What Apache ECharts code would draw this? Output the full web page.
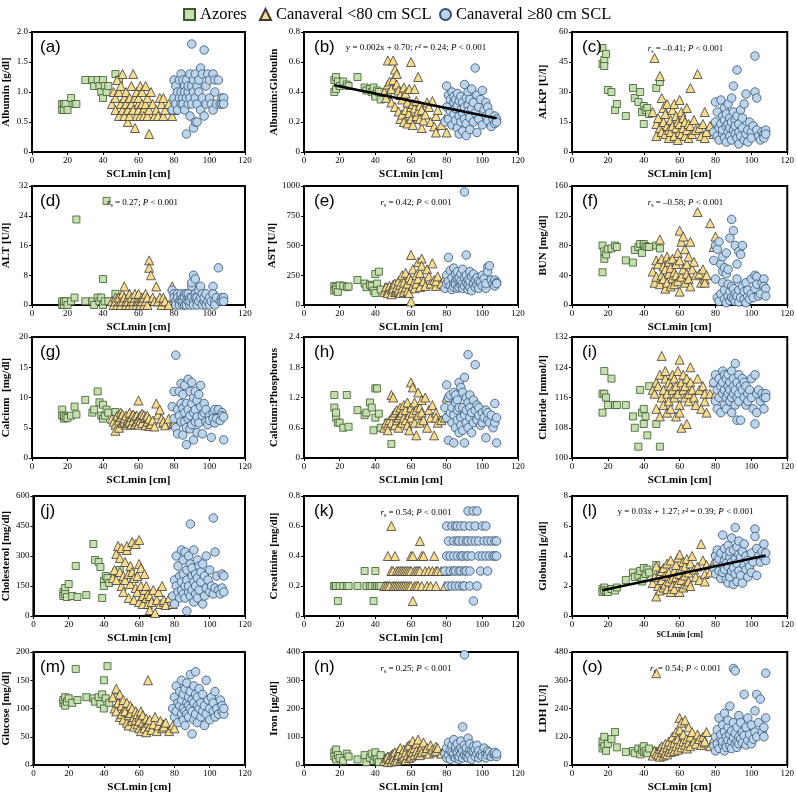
<!DOCTYPE html>
<html><head><meta charset="utf-8">
<script src="https://cdn.jsdelivr.net/npm/echarts@6/dist/echarts.min.js"></script>
<style>html,body{margin:0;padding:0;background:#fff}#c{width:797px;height:794px}</style>
</head><body><div id="c"></div>
<script>
// ---- shared SCLmin values (cm) per group ----
const azX = [17,17,18,18,19,20,22,24,25,30,34,35,37,38,39,40,40,41,42,43,47,49];
const smX = [45,46,47,47,48,49,49,50,50,51,51,52,52,53,53,54,54,55,55,56,56,57,57,58,58,59,59,60,60,60,61,61,62,62,63,63,64,64,65,65,66,66,67,68,69,70,71,72,73,74,74,75,77,79,80];
const lgX = [79,80,80,81,81,82,82,83,83,84,84,84,85,85,85,86,86,86,87,87,87,88,88,88,89,89,89,90,90,90,91,91,91,92,92,92,93,93,93,94,94,95,95,96,96,97,97,98,98,99,100,100,101,102,102,103,103,104,105,106,107,107,108,108];
const xTicks = [0,20,40,60,80,100,120];

// (a) Albumin
const a_az = [0.8,0.7,0.8,0.7,0.8,0.7,0.9,0.8,0.8,1.2,1.2,1.1,1.2,1.1,1.0,0.9,1.2,1.1,1.0,1.1,1.3,1.2];
const a_sm = [0.8,1.0,0.9,0.7,1.2,1.0,0.6,1.1,0.8,1.3,0.7,0.9,0.6,0.8,1.0,0.7,0.5,0.9,0.6,1.1,0.8,1.3,0.7,0.9,0.4,1.0,0.6,0.8,0.7,0.9,1.1,0.6,0.8,1.0,0.7,0.6,1.1,0.8,0.9,0.6,0.3,0.7,1.0,0.8,0.6,0.7,0.6,0.9,0.8,0.6,0.9,0.7,0.8,0.6,0.7];
const a_lg = [0.7,1.2,0.9,1.1,0.8,1.0,0.7,1.2,0.9,1.3,0.8,1.0,1.2,0.9,0.8,1.1,0.7,1.0,0.3,1.2,0.9,1.0,0.8,1.1,1.3,0.9,0.6,1.8,1.1,0.8,0.4,1.2,1.0,0.5,0.9,1.3,1.1,0.8,0.5,1.2,1.0,1.4,0.7,1.3,0.9,1.7,0.6,1.1,0.8,1.3,1.2,0.9,0.8,1.3,0.7,1.2,1.0,0.8,1.2,0.8,0.9,0.8,0.9,0.8];
// (b) Albumin:Globulin
const b_az = [0.48,0.40,0.50,0.42,0.47,0.44,0.47,0.45,0.44,0.50,0.43,0.41,0.42,0.40,0.43,0.38,0.37,0.41,0.40,0.35,0.38,0.42];
const b_sm = [0.40,0.36,0.61,0.45,0.47,0.42,0.33,0.61,0.48,0.55,0.30,0.52,0.45,0.27,0.41,0.38,0.22,0.35,0.25,0.43,0.20,0.39,0.28,0.33,0.19,0.42,0.26,0.60,0.30,0.22,0.32,0.18,0.29,0.42,0.24,0.34,0.50,0.27,0.22,0.31,0.16,0.28,0.21,0.25,0.33,0.30,0.20,0.34,0.17,0.24,0.13,0.28,0.18,0.22,0.13];
const b_lg = [0.20,0.44,0.30,0.38,0.22,0.35,0.27,0.40,0.18,0.33,0.25,0.37,0.29,0.21,0.35,0.31,0.16,0.39,0.24,0.34,0.12,0.37,0.28,0.20,0.33,0.26,0.14,0.45,0.30,0.22,0.36,0.19,0.11,0.31,0.27,0.40,0.23,0.35,0.15,0.29,0.42,0.33,0.20,0.56,0.26,0.38,0.13,0.30,0.22,0.35,0.41,0.18,0.28,0.24,0.33,0.21,0.30,0.26,0.17,0.22,0.24,0.19,0.22,0.20];
const b_fitX = [17,108];
const b_fitY = [0.445,0.225];
// (c) ALKP
const c_az = [52,44,46,43,49,31,30,21,24,18,32,27,25,30,20,14,23,21,22,19,32,35];
const c_sm = [20,47,14,8,17,38,12,27,10,22,15,9,19,13,24,11,7,16,10,21,13,24,8,18,12,15,6,26,10,14,20,9,17,12,8,15,11,22,14,7,32,13,9,16,11,39,12,8,14,20,7,10,13,9,11];
const c_lg = [10,25,15,8,20,12,6,26,14,9,18,11,22,7,16,13,5,19,10,24,14,8,17,12,27,6,15,20,11,33,9,16,13,7,41,18,10,14,4,21,8,12,17,6,24,9,29,11,5,15,10,7,13,48,30,27,11,8,6,10,9,7,11,9];
// (d) ALT
const d_az = [0,1,0,1,1,0,1,2,23,1,1,0,2,1,2,7,0,1,28,1,3,2];
const d_sm = [1,0,2,1,0,1,2,0,1,3,1,5,2,0,1,2,1,0,3,1,2,0,1,2,3,1,0,2,1,3,1,0,2,1,0,2,3,1,0,2,12,10,8,2,1,5,1,2,0,1,2,1,0,5,2];
const d_lg = [4,3,2,1,0,3,2,1,0,2,3,1,0,2,1,3,0,2,1,3,0,2,1,3,2,0,1,5,6,2,8,1,0,7,3,2,1,0,2,4,1,5,2,0,3,1,2,0,3,1,2,0,1,5,3,1,0,2,10,1,2,1,2,1];
// (e) AST
const e_az = [160,120,150,130,110,165,160,150,155,210,180,150,170,160,120,100,260,180,280,130,150,140];
const e_sm = [110,150,120,100,160,130,90,170,140,110,180,120,150,200,130,100,170,250,140,110,190,270,150,120,180,230,100,210,30,420,160,300,200,140,250,180,360,220,150,270,390,330,200,160,300,240,180,350,210,160,200,240,180,230,150];
const e_lg = [140,250,180,400,200,160,290,230,130,180,310,150,260,200,170,220,140,280,190,150,230,170,260,200,140,300,180,950,230,160,420,190,250,130,210,170,280,150,200,240,120,180,260,210,150,230,170,200,140,190,250,160,220,140,180,320,280,330,210,180,160,210,190,180];
// (f) BUN
const f_az = [44,80,62,72,68,75,76,80,78,60,57,74,78,82,70,80,82,79,78,78,80,76];
const f_sm = [45,30,60,38,55,28,88,40,62,52,35,48,22,65,30,58,42,25,50,36,62,44,28,55,40,70,32,100,18,60,85,38,92,48,30,75,55,42,65,35,85,25,48,58,40,125,42,30,48,35,30,40,110,78,92];
const f_lg = [60,80,35,75,10,85,5,55,15,45,30,65,8,50,20,42,3,70,12,28,48,6,18,90,115,10,25,100,8,22,80,5,15,55,12,35,72,4,20,68,10,80,25,8,18,3,30,12,20,8,15,35,10,40,22,38,28,12,15,30,35,25,22,12];
// (g) Calcium
const g_az = [8,7,6.5,7,6.8,6.6,7,8.5,7.2,9.6,7.5,8,11,9.2,7,6.5,8.8,7,8,7.5,7.6,6.8];
const g_sm = [6.5,6,5.5,4.5,7,6.2,5,7.5,6.8,5.8,7.2,6,6.6,5.5,7,6.3,5.8,7.5,6,6.8,5.5,7.2,6.2,6.9,5.6,7,6,9.5,6.5,5.5,7,6.2,7.3,5.8,6.6,7.1,5.4,6.8,6,7,5.3,6.5,5.6,6.2,5.2,9,7.2,8,6.5,5.8,6,5.4,6.5,5.6,5.8];
const g_lg = [8.5,6.5,11,17,5,8,4,11,7,9,6,12.3,3.8,8.2,10.5,6,12,7.5,2.2,9,5,13,8,6.5,11,4.8,7,12.5,9,5.5,3,10,7.5,6,11,8,4.2,9.5,6.8,10.5,5.8,8.5,12,7,4,9,7.5,6,8,5.5,7,6.2,3.4,7.5,6.5,8,5.8,6.5,8,6.2,7.5,7,3,6.8];
// (h) Calcium:Phosphorus
const h_az = [1.25,1.0,0.8,0.9,0.7,0.7,0.6,1.25,0.62,0.95,0.85,0.9,1.1,1.0,0.55,0.8,1.38,1.38,0.88,0.6,0.7,0.28];
const h_sm = [0.6,0.7,0.65,0.55,0.75,1.25,0.7,0.85,1.2,0.65,0.9,0.75,0.95,0.8,0.6,0.85,1.0,0.7,0.9,0.8,1.05,0.75,0.95,0.65,1.1,0.85,0.55,1.5,1.0,0.8,1.4,0.9,1.1,0.7,0.95,0.45,1.3,0.85,1.0,0.7,1.15,0.9,0.75,1.2,0.6,0.95,0.8,1.05,0.45,0.9,0.8,0.7,0.75,0.8,1.2];
const h_lg = [1.0,1.45,0.8,0.35,1.2,0.9,1.25,0.7,1.0,0.3,1.3,0.85,1.1,0.6,1.25,0.95,0.75,1.15,0.5,1.0,1.5,0.8,1.4,0.65,1.0,1.3,0.55,1.6,0.85,0.3,1.2,0.95,0.7,2.05,1.1,0.6,1.25,0.8,1.0,0.5,0.9,1.15,0.7,1.85,0.95,1.05,0.75,0.85,1.0,0.65,0.9,0.7,0.8,0.4,0.95,0.75,0.9,0.7,0.85,0.6,1.08,0.7,0.3,0.8];
// (i) Chloride
const i_az = [117,112,123,117,116,114,121,114,114,114,111,108,103,118,112,109,113,111,106,119,109,103];
const i_sm = [118,117,120,113,119,111,122,116,127,114,118,121,123,112,117,120,115,119,113,122,118,116,121,111,119,117,123,126,114,112,120,108,118,122,116,119,109,121,115,117,120,124,118,116,114,121,118,113,119,115,117,112,117,120,117];
const i_lg = [120,122,115,118,113,121,116,119,112,123,117,120,114,122,118,116,121,113,119,117,122,115,120,118,116,123,112,119,117,121,114,125,118,116,110,120,122,117,115,119,110,121,118,116,120,114,119,117,115,118,116,121,113,122,109,117,112,118,115,117,116,113,117,116];
// (j) Cholesterol
const j_az = [120,100,140,110,95,160,100,250,95,105,360,280,270,245,90,175,150,200,190,165,220,230];
const j_sm = [190,230,310,180,350,290,220,340,150,120,200,180,270,330,350,210,90,250,160,370,220,190,80,360,140,200,120,260,70,380,150,240,100,60,210,130,90,150,60,110,30,100,70,130,15,80,120,60,150,70,80,55,90,60,75];
const j_lg = [100,180,60,150,300,120,250,90,200,130,330,170,110,280,210,150,320,90,25,230,180,120,300,150,260,100,460,200,130,240,70,170,330,110,210,150,280,90,190,250,130,220,170,60,260,100,200,140,300,180,230,120,150,490,110,320,140,200,130,110,210,140,120,200];
// (k) Creatinine
const k_az = [0.2,0.2,0.2,0.2,0.1,0.2,0.2,0.2,0.2,0.2,0.3,0.2,0.2,0.2,0.1,0.3,0.2,0.2,0.2,0.2,0.2,0.2];
const k_sm = [0.2,0.2,0.4,0.2,0.2,0.6,0.3,0.2,0.3,0.4,0.2,0.3,0.2,0.3,0.2,0.3,0.2,0.3,0.2,0.3,0.2,0.3,0.2,0.3,0.2,0.3,0.2,0.4,0.3,0.2,0.1,0.4,0.3,0.2,0.3,0.2,0.3,0.2,0.5,0.3,0.2,0.4,0.4,0.3,0.2,0.3,0.2,0.3,0.4,0.3,0.2,0.3,0.3,0.2,0.3];
const k_lg = [0.3,0.6,0.4,0.2,0.5,0.3,0.4,0.6,0.2,0.3,0.5,0.4,0.6,0.2,0.3,0.5,0.4,0.6,0.2,0.3,0.5,0.4,0.3,0.6,0.2,0.5,0.4,0.3,0.6,0.2,0.5,0.4,0.3,0.7,0.5,0.4,0.6,0.3,0.2,0.5,0.4,0.7,0.1,0.5,0.6,0.7,0.2,0.4,0.5,0.3,0.6,0.4,0.5,0.6,0.4,0.5,0.3,0.4,0.5,0.4,0.5,0.4,0.5,0.4];
// (l) Globulin
const l_az = [1.8,1.6,1.9,1.7,1.7,1.6,1.8,1.7,1.9,2.4,2.9,2.6,2.7,3.0,2.3,3.2,2.5,2.8,3.1,2.9,3.4,3.0];
const l_sm = [2.2,2.6,1.3,3.3,2.0,2.8,1.7,3.0,2.4,1.9,3.2,2.1,2.7,1.8,3.5,2.3,2.9,1.6,3.7,2.5,2.0,3.0,1.8,2.6,3.4,2.2,3.9,4.1,2.8,1.6,3.1,2.4,3.6,1.9,2.7,3.3,2.1,3.8,2.9,2.3,3.5,2.0,4.0,3.1,2.6,3.3,2.4,4.8,3.7,2.8,2.3,3.4,2.9,3.6,4.3];
const l_lg = [3.2,4.0,2.8,3.6,4.4,3.0,3.8,2.5,4.2,3.4,5.4,2.9,3.7,4.5,3.1,2.4,4.0,3.5,2.2,4.7,3.3,3.9,2.6,4.3,3.0,5.2,3.6,2.1,4.4,3.2,5.9,2.8,3.8,4.6,2.3,3.5,4.1,3.0,5.0,2.7,3.9,4.3,2.2,3.4,4.8,3.1,4.0,2.6,3.7,3.3,4.2,2.9,3.6,5.8,5.3,4.5,2.7,4.0,3.6,4.3,4.8,3.9,3.7,4.2];
const l_fitX = [17,108];
const l_fitY = [1.72,4.03];
// (m) Glucose
const m_az = [110,115,105,120,112,118,110,170,115,120,118,112,120,108,125,100,150,118,175,110,120,105];
const m_sm = [120,100,135,95,110,85,125,105,90,115,80,100,95,75,110,88,70,105,92,78,100,85,68,95,80,72,90,65,85,78,60,95,75,88,70,65,82,58,75,150,68,80,62,72,85,60,70,78,65,72,68,75,60,70,65];
const m_lg = [100,120,85,140,95,110,75,130,105,90,150,115,80,125,100,95,135,70,110,145,90,120,105,85,160,100,130,55,115,95,140,80,110,125,90,165,105,75,120,100,135,85,110,95,125,70,105,150,90,115,100,80,120,95,110,85,130,100,90,115,95,105,90,100];
// (n) Iron
const n_az = [45,30,55,20,35,25,15,40,30,20,35,10,25,40,15,30,45,20,10,35,25,30];
const n_sm = [15,25,10,30,20,35,12,40,22,18,45,28,15,50,35,20,60,25,40,30,55,18,45,65,35,25,70,40,50,30,85,45,60,35,75,50,40,90,55,35,65,45,80,50,60,40,70,55,45,65,50,60,40,55,45];
const n_lg = [40,60,25,80,35,50,20,70,45,30,90,40,55,25,65,35,75,45,20,55,30,85,40,60,25,50,135,35,70,390,45,30,60,95,40,25,55,75,35,50,20,65,45,30,55,40,70,25,50,35,45,30,60,40,25,50,35,45,30,40,35,45,30,40];
// (o) LDH
const o_az = [100,70,120,80,60,90,110,140,75,55,60,50,70,45,65,55,80,60,50,70,60,55];
const o_sm = [40,60,390,50,45,70,35,80,55,40,65,90,50,75,45,100,60,85,55,120,70,95,60,140,80,110,65,200,90,150,75,180,100,130,85,190,110,70,160,95,120,80,140,100,90,130,110,85,120,95,100,140,80,110,90];
const o_lg = [80,120,60,150,90,200,70,110,130,85,170,100,60,140,220,90,120,75,160,105,190,80,130,250,100,145,70,410,115,180,90,135,400,100,160,75,210,120,90,180,110,140,95,300,125,85,160,105,200,130,90,170,110,140,230,300,120,180,280,140,160,120,200,390];

const groupNames = ['Azores','Canaveral <80 cm SCL','Canaveral \u226580 cm SCL'];

const panels = [
  {lab:'(a)', y:'Albumin [g/dl]', min:0, max:2, iv:0.5, dec:1, d:[a_az,a_sm,a_lg]},
  {lab:'(b)', y:'Albumin:Globulin', min:0, max:0.8, iv:0.2, dec:1, d:[b_az,b_sm,b_lg], fit:[b_fitX,b_fitY], ann:'y = 0.002x + 0.70; {i|r}\u00b2 = 0.24; {i|P} < 0.001'},
  {lab:'(c)', y:'ALKP [U/l]', min:0, max:60, iv:15, dec:0, d:[c_az,c_sm,c_lg], ann:'{i|r}{s|s} = \u20130.41; {i|P} < 0.001'},
  {lab:'(d)', y:'ALT [U/l]', min:0, max:32, iv:8, dec:0, d:[d_az,d_sm,d_lg], ann:'{i|r}{s|s} = 0.27; {i|P} < 0.001'},
  {lab:'(e)', y:'AST [U/l]', min:0, max:1000, iv:250, dec:0, d:[e_az,e_sm,e_lg], ann:'{i|r}{s|s} = 0.42; {i|P} < 0.001'},
  {lab:'(f)', y:'BUN [mg/dl]', min:0, max:160, iv:40, dec:0, d:[f_az,f_sm,f_lg], ann:'{i|r}{s|s} = \u20130.58; {i|P} < 0.001'},
  {lab:'(g)', y:'Calcium  [mg/dl]', min:0, max:20, iv:5, dec:0, d:[g_az,g_sm,g_lg]},
  {lab:'(h)', y:'Calcium:Phosphorus', min:0, max:2.4, iv:0.6, dec:1, d:[h_az,h_sm,h_lg]},
  {lab:'(i)', y:'Chloride [mmol/l]', min:100, max:132, iv:8, dec:0, d:[i_az,i_sm,i_lg]},
  {lab:'(j)', y:'Cholesterol [mg/dl]', min:0, max:600, iv:150, dec:0, d:[j_az,j_sm,j_lg]},
  {lab:'(k)', y:'Creatinine [mg/dl]', min:0, max:0.8, iv:0.2, dec:1, d:[k_az,k_sm,k_lg], ann:'{i|r}{s|s} = 0.54; {i|P} < 0.001'},
  {lab:'(l)', y:'Globulin [g/dl]', min:0, max:8, iv:2, dec:0, d:[l_az,l_sm,l_lg], fit:[l_fitX,l_fitY], ann:'y = 0.03x + 1.27; {i|r}\u00b2 = 0.39; {i|P} < 0.001', smallX:true},
  {lab:'(m)', y:'Glucose [mg/dl]', min:0, max:200, iv:50, dec:0, d:[m_az,m_sm,m_lg]},
  {lab:'(n)', y:'Iron [\u00b5g/dl]', min:0, max:400, iv:100, dec:0, d:[n_az,n_sm,n_lg], ann:'{i|r}{s|s} = 0.25; {i|P} < 0.001'},
  {lab:'(o)', y:'LDH [U/l]', min:0, max:480, iv:120, dec:0, d:[o_az,o_sm,o_lg], ann:'{i|r}{s|s} = 0.54; {i|P} < 0.001'}
];

const FONT = "'Liberation Serif', 'Times New Roman', serif";
const colLeft = [30, 304, 572], colW = [215, 214, 217], yGap = [20, 24, 23];
const rowTop = [32, 186, 337, 496, 652], rowH = [120, 119, 121, 120, 118];
const groupX = [azX, smX, lgX];
const styles = [
  {symbol:'rect', size:7, fill:'#c5dfb0', border:'#3a5a28'},
  {symbol:'triangle', size:9, fill:'#f9dc8c', border:'#3a3a3a'},
  {symbol:'circle', size:8.5, fill:'#bcd5ec', border:'#34506e'}
];

const grids = [], xAxes = [], yAxes = [], series = [], titles = [];
panels.forEach((p, i) => {
  const c = i % 3, r = Math.floor(i / 3);
  const L = colLeft[c], T = rowTop[r], W = colW[c], H = rowH[r];
  grids.push({left:L, top:T, width:W, height:H, show:true, borderColor:'#000', borderWidth:2, containLabel:false});
  xAxes.push({gridIndex:i, type:'value', min:0, max:120, interval:20,
    name:'SCLmin [cm]', nameLocation:'middle', nameGap: p.smallX ? 15 : 17,
    nameTextStyle:{fontFamily:FONT, fontWeight:'bold', fontSize: p.smallX ? 8 : 11, color:'#000'},
    axisLine:{show:true, onZero:false, lineStyle:{color:'#000', width:2}},
    axisTick:{show:true, length:3, lineStyle:{color:'#000'}},
    axisLabel:{fontFamily:FONT, fontSize:9, color:'#000', margin:4, showMinLabel:true, showMaxLabel:true},
    splitLine:{show:false}});
  yAxes.push({gridIndex:i, type:'value', min:p.min, max:p.max, interval:p.iv,
    name:p.y, nameLocation:'middle', nameGap:yGap[c],
    nameTextStyle:{fontFamily:FONT, fontWeight:'bold', fontSize:11, color:'#000'},
    axisLine:{show:true, onZero:false, lineStyle:{color:'#000', width:2}},
    axisTick:{show:true, length:3, lineStyle:{color:'#000'}},
    axisLabel:{fontFamily:FONT, fontSize:9, color:'#000', margin:4,
      formatter: v => (v === 0 ? '0' : v.toFixed(p.dec))},
    splitLine:{show:false}});
  p.d.forEach((ys, g) => {
    const xs = groupX[g];
    const n = Math.min(xs.length, ys.length);
    const data = [];
    for (let k = 0; k < n; k++) data.push([xs[k], ys[k]]);
    const s = styles[g];
    series.push({type:'scatter', name:groupNames[g], xAxisIndex:i, yAxisIndex:i,
      symbol:s.symbol, symbolSize:s.size, data,
      itemStyle:{color:s.fill, borderColor:s.border, borderWidth:0.8, opacity:1},
      emphasis:{disabled:true}, z:2+g});
  });
  if (p.fit) {
    const data = p.fit[0].map((x, k) => [x, p.fit[1][k]]);
    series.push({type:'line', xAxisIndex:i, yAxisIndex:i, data, symbol:'none',
      lineStyle:{color:'#000', width:2.5}, z:10, silent:true});
  }
  titles.push({text:p.lab, left:L+5, top:T+2,
    textStyle:{fontFamily:"'Liberation Sans', Arial, sans-serif", fontSize:17, fontWeight:'normal', color:'#000'}});
  if (p.ann) {
    titles.push({text:p.ann, left:L+W/2, top:T+6, textAlign:'center',
      textStyle:{fontFamily:FONT, fontSize:9, fontWeight:'normal', color:'#000',
        rich:{
          i:{fontFamily:FONT, fontSize:9, fontStyle:'italic', color:'#000'},
          s:{fontFamily:FONT, fontSize:6, color:'#000', padding:[5,0,0,0]}
        }}});
  }
});

const legendLefts = [183, 259, 439];
const legendIcons = ['rect', 'triangle', 'circle'];
const legends = groupNames.map((nm, g) => ({
  top:6, left:legendLefts[g], padding:0, itemWidth:11, itemHeight:11, itemGap:0,
  textStyle:{fontFamily:FONT, fontSize:16.5, color:'#000'},
  data:[{name:nm, icon:legendIcons[g]}]
}));

const chart = echarts.init(document.getElementById('c'), null, {renderer:'canvas'});
chart.setOption({
  animation:false,
  backgroundColor:'#fff',
  legend:legends,
  title:titles, grid:grids, xAxis:xAxes, yAxis:yAxes, series
});
</script></body></html>
